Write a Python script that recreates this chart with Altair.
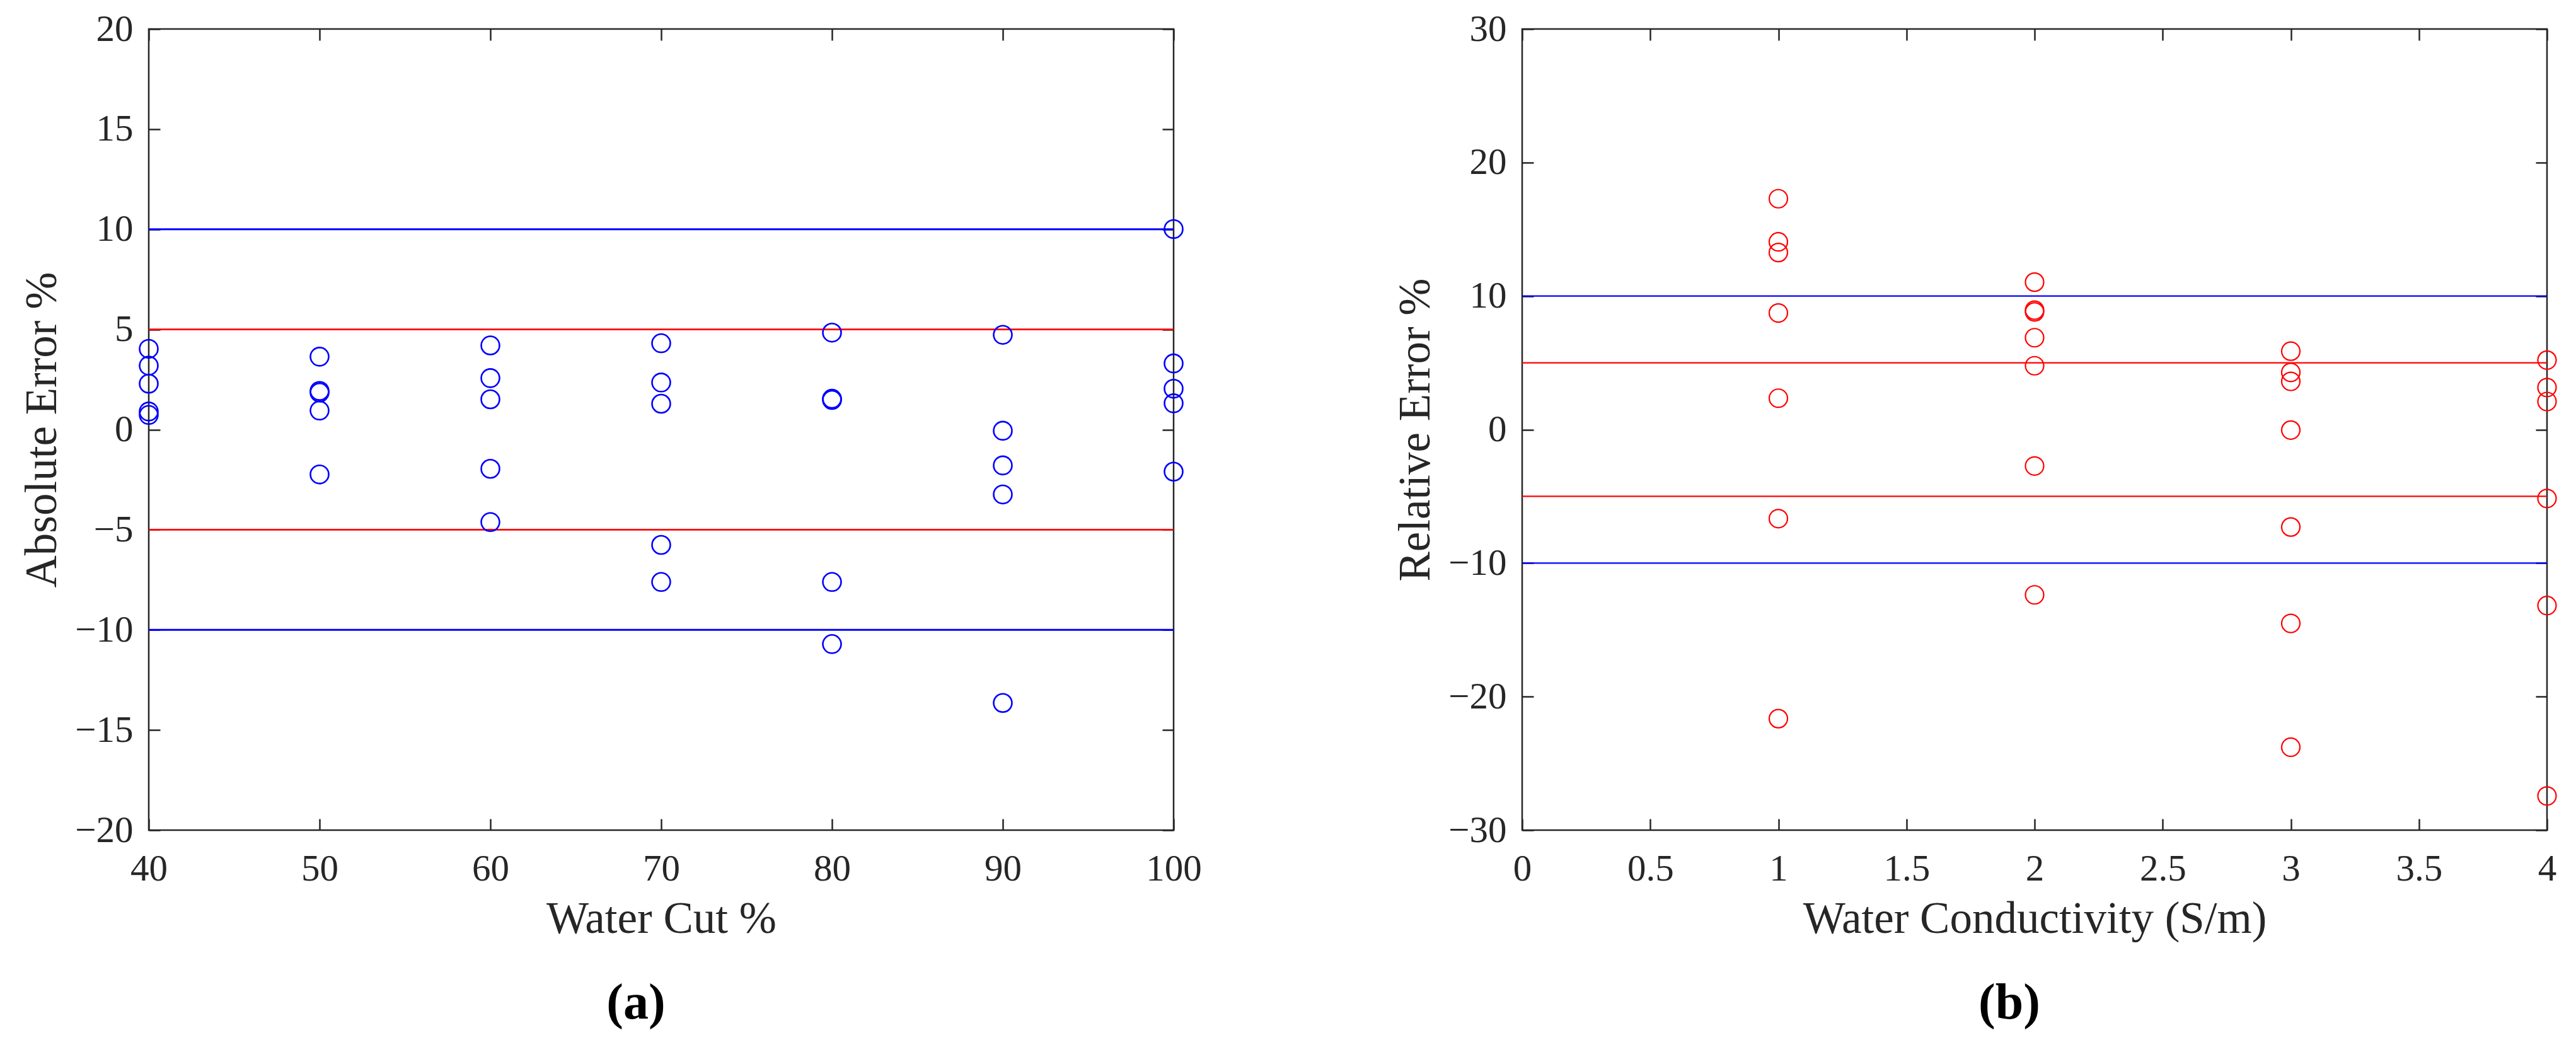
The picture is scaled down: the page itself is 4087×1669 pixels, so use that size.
import altair as alt
import pandas as pd

# ---------------- data ----------------
# Panel (a): Absolute error vs water cut
wc_x = [40, 40, 40, 40, 40,
        50, 50, 50, 50, 50,
        60, 60, 60, 60, 60,
        70, 70, 70, 70, 70,
        80, 80, 80, 80, 80,
        90, 90, 90, 90, 90,
        100, 100, 100, 100, 100]
abs_err = [4.03, 3.19, 2.29, 0.90, 0.73,
           3.64, 1.93, 1.85, 0.95, -2.24,
           4.20, 2.57, 1.51, -1.96, -4.62,
           4.31, 2.35, 1.29, -5.76, -7.61,
           4.84, 1.54, 1.48, -7.61, -10.71,
           4.73, -0.06, -1.79, -3.24, -13.65,
           10.01, 3.30, 2.04, 1.31, -2.10]

# Panel (b): Relative error vs water conductivity
cond_x = [1, 1, 1, 1, 1, 1, 1,
          2, 2, 2, 2, 2, 2, 2,
          3, 3, 3, 3, 3, 3, 3,
          4, 4, 4, 4, 4, 4]
rel_err = [17.29, 14.06, 13.26, 8.73, 2.35, -6.67, -21.65,
           11.04, 8.94, 8.81, 6.88, 4.78, -2.73, -12.38,
           5.87, 4.28, 3.61, -0.04, -7.30, -14.52, -23.79,
           5.20, 3.15, 2.10, -5.16, -13.18, -27.44]

# Reference limit lines
limit_values = [10, 5, -5, -10]
limit_colors = ["#0000FF", "#FF0000", "#FF0000", "#0000FF"]

# Axis ticks
a_xticks = [40, 50, 60, 70, 80, 90, 100]
a_yticks = [-20, -15, -10, -5, 0, 5, 10, 15, 20]
b_xticks = [0, 0.5, 1, 1.5, 2, 2.5, 3, 3.5, 4]
b_yticks = [-30, -20, -10, 0, 10, 20, 30]

# ---------------- styling ----------------
FONT = "Liberation Serif"
INK = "#262626"
W, H = 1626, 1271
TICK = 18


def axis(orient, values, title=None, labels=True, fmt="~f", label_pad=25, title_pad=15):
    kw = dict(
        orient=orient, values=values, offset=-TICK, tickSize=TICK, tickWidth=2.5,
        tickColor=INK, domain=False, grid=False, labels=labels,
        labelFont=FONT, labelFontSize=59, labelColor=INK, labelPadding=label_pad,
        labelFlush=False, labelOverlap=False, labelBound=False, format=fmt,
    )
    if title is not None:
        kw.update(title=title, titleFont=FONT, titleFontSize=71, titleFontWeight="normal",
                  titleColor=INK, titlePadding=title_pad)
    else:
        kw.update(title=None)
    return alt.Axis(**kw)


def panel(xs, ys, color, stroke_w, line_w, xdom, ydom, xticks, yticks, xtitle, ytitle, tag):
    df = pd.DataFrame({"x": xs, "y": ys})
    lines = pd.DataFrame({"v": limit_values, "c": limit_colors})
    xs_ = alt.Scale(domain=xdom, nice=False, zero=False)
    ys_ = alt.Scale(domain=ydom, nice=False, zero=False)

    rules = alt.Chart(lines).mark_rule(strokeWidth=line_w).encode(
        y=alt.Y("v:Q", scale=ys_, axis=None),
        color=alt.Color("c:N", scale=None),
    )
    pts = alt.Chart(df).mark_point(shape="circle", filled=False, size=840,
                                   strokeWidth=stroke_w, color=color, opacity=1).encode(
        x=alt.X("x:Q", scale=xs_, axis=axis("bottom", xticks, xtitle, label_pad=32, title_pad=15)),
        y=alt.Y("y:Q", scale=ys_, axis=axis("left", yticks, ytitle, label_pad=25, title_pad=15)),
    )
    mirror = alt.Chart(df).mark_point(opacity=0).encode(
        x=alt.X("x:Q", scale=xs_, axis=axis("top", xticks, labels=False)),
        y=alt.Y("y:Q", scale=ys_, axis=axis("right", yticks, labels=False)),
    )
    return alt.layer(rules, pts, mirror).resolve_axis(x="independent", y="independent").properties(
        width=W, height=H,
        title=alt.TitleParams(tag, orient="bottom", font=FONT, fontSize=80, fontWeight="bold",
                              color="black", anchor="middle", frame="group", dx=-40,
                              offset=60, baseline="top"),
    )


left = panel(wc_x, abs_err, "#0000FF", 2.6, 2.8, [40, 100], [-20, 20],
             a_xticks, a_yticks, "Water Cut %", "Absolute Error %", "(a)")
right = panel(cond_x, rel_err, "#FF0000", 2.2, 2.2, [0, 4], [-30, 30],
              b_xticks, b_yticks, "Water Conductivity (S/m)", "Relative Error %", "(b)")

chart = alt.hconcat(left, right, spacing=301).properties(
    padding={"left": 22, "top": 7, "right": 5, "bottom": 0},
    background="white",
).configure_view(stroke=INK, strokeWidth=2.5)

chart.save("out.html", embed_options={"renderer": "svg", "actions": False})
